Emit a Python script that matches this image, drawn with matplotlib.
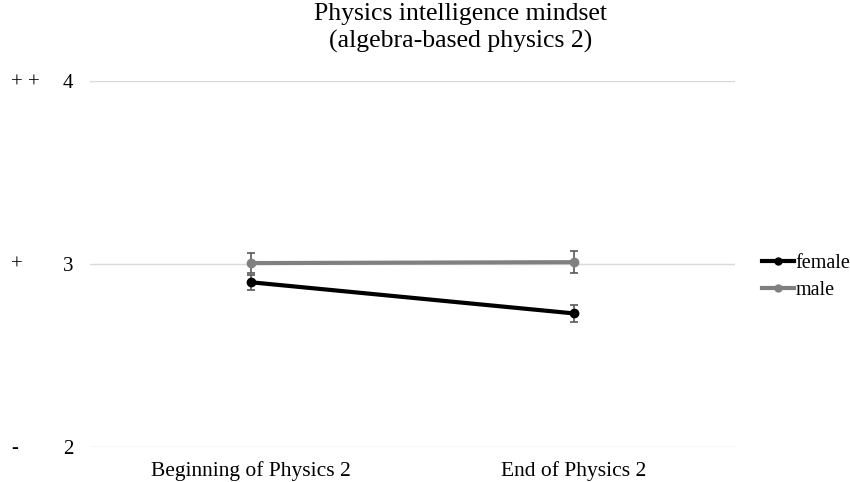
import matplotlib.pyplot as plt
from matplotlib.lines import Line2D

plt.rcParams['font.family'] = ['Liberation Serif', 'DejaVu Serif']

categories = ["Beginning of Physics 2", "End of Physics 2"]
female = [2.90, 2.73]
female_err = [0.04, 0.045]
male = [3.005, 3.01]
male_err = [0.055, 0.06]
side_labels = {4: "+ +", 3: "+", 2: "-"}

fig = plt.figure(figsize=(8.5, 4.82), dpi=100)
ax = fig.add_axes([90 / 850, 35 / 482, 645 / 850, 366 / 482])

x = [0, 1]
ax.errorbar(x, female, yerr=female_err, color="black", lw=3, marker="o", ms=6,
            ecolor="#595959", elinewidth=1.2, capsize=3, capthick=1.2, zorder=3)
ax.errorbar(x, male, yerr=male_err, color="#808080", lw=3, marker="o", ms=6,
            ecolor="#595959", elinewidth=1.2, capsize=3, capthick=1.2, zorder=3)

ax.set_xlim(-0.5, 1.5)
ax.set_ylim(2, 4)
ax.set_yticks([2, 3, 4])
ax.set_xticks(x)
ax.set_xticklabels(categories, fontsize=15.5)
ax.tick_params(axis="y", labelsize=15, length=0, pad=12)
ax.tick_params(axis="x", length=0, pad=10)
ax.grid(axis="y", color="#d9d9d9", lw=1)
ax.set_axisbelow(True)
for s in ax.spines.values():
    s.set_visible(False)

for val, lab in side_labels.items():
    ax.annotate(lab, xy=(0, val), xycoords=("figure pixels", "data"),
                xytext=(8, -1), textcoords="offset points",
                ha="left", va="center", fontsize=15)

fig.text(461 / 850, 1 - 3 / 482, "Physics intelligence mindset\n(algebra-based physics 2)",
         ha="center", va="top", fontsize=18.5, linespacing=1.3)

handles = [Line2D([], [], color="black", lw=3, marker="o", ms=5),
           Line2D([], [], color="#808080", lw=3, marker="o", ms=5)]
fig.legend(handles, ["female", "male"], loc="center left",
           bbox_to_anchor=(744 / 850, 1 - 277 / 482), frameon=False,
           fontsize=14.5, handlelength=1.6, handletextpad=0.05, labelspacing=0.35)

fig.savefig("out.png", dpi=100)
